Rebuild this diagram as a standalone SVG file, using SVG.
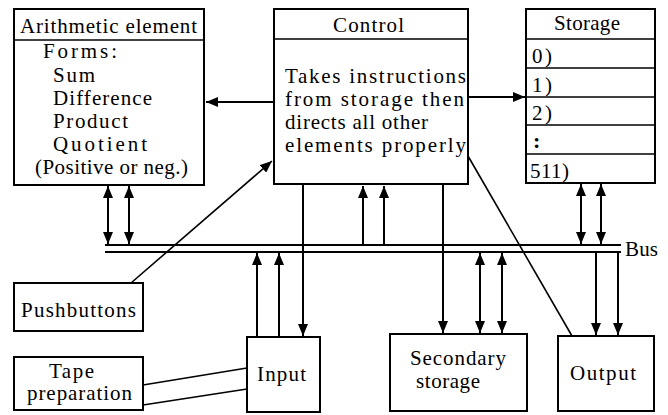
<svg xmlns="http://www.w3.org/2000/svg" width="668" height="415" viewBox="0 0 668 415">
<style>
.box{fill:#fff;stroke:#000;stroke-width:2}
.div{stroke:#000;stroke-width:1.6}
.lbl{font-family:'Liberation Serif','DejaVu Serif',serif;font-size:21px;fill:#000}
.c{stroke:#000;stroke-width:2;fill:none}
.t{stroke:#000;stroke-width:1.6;fill:none}
</style>
<defs>
<marker id="ah" markerUnits="userSpaceOnUse" markerWidth="12" markerHeight="10" refX="12" refY="5" orient="auto-start-reverse" viewBox="0 0 12 10">
<path d="M0,0 L12,5 L0,10 z" fill="#000"/>
</marker>
</defs>
<rect width="668" height="415" fill="#fff"/>

<g id="connectors">
<line class="c" x1="105" y1="245" x2="621" y2="245"/>
<line class="c" x1="105" y1="252" x2="621" y2="252"/>
<line class="c" x1="273" y1="102" x2="206" y2="102" marker-end="url(#ah)"/>
<line class="c" x1="468" y1="97" x2="525" y2="97" marker-end="url(#ah)"/>
<line class="c" x1="108" y1="186" x2="108" y2="244" marker-start="url(#ah)" marker-end="url(#ah)"/>
<line class="c" x1="129" y1="186" x2="129" y2="244" marker-start="url(#ah)" marker-end="url(#ah)"/>
<line class="c" x1="363" y1="245" x2="363" y2="186" marker-end="url(#ah)"/>
<line class="c" x1="384" y1="245" x2="384" y2="186" marker-end="url(#ah)"/>
<line class="c" x1="581" y1="184" x2="581" y2="244" marker-start="url(#ah)" marker-end="url(#ah)"/>
<line class="c" x1="601" y1="184" x2="601" y2="244" marker-start="url(#ah)" marker-end="url(#ah)"/>
<line class="c" x1="257" y1="337" x2="257" y2="253" marker-end="url(#ah)"/>
<line class="c" x1="279" y1="337" x2="279" y2="253" marker-end="url(#ah)"/>
<line class="c" x1="303" y1="185" x2="303" y2="336" marker-end="url(#ah)"/>
<line class="c" x1="443" y1="184" x2="443" y2="333" marker-end="url(#ah)"/>
<line class="c" x1="480" y1="253" x2="480" y2="333" marker-start="url(#ah)" marker-end="url(#ah)"/>
<line class="c" x1="502" y1="253" x2="502" y2="333" marker-start="url(#ah)" marker-end="url(#ah)"/>
<line class="c" x1="596" y1="252" x2="596" y2="335" marker-end="url(#ah)"/>
<line class="c" x1="618" y1="252" x2="618" y2="335" marker-end="url(#ah)"/>
<line class="t" x1="468" y1="156" x2="572" y2="336"/>
<line class="t" x1="131" y1="283" x2="272" y2="161" marker-end="url(#ah)"/>
<line class="t" x1="143" y1="385" x2="247" y2="368"/>
<line class="t" x1="143" y1="405" x2="247" y2="389"/>
<text class="lbl" x="625" y="256" textLength="33">Bus</text>
</g>

<g id="arithmetic">
<rect class="box" x="14" y="9" width="190" height="176"/>
<line class="div" x1="14" y1="40" x2="204" y2="40"/>
<text class="lbl" x="20" y="33" textLength="177">Arithmetic element</text>
<text class="lbl" x="43" y="58" textLength="74">Forms:</text>
<text class="lbl" x="53" y="82" textLength="42">Sum</text>
<text class="lbl" x="53" y="105" textLength="99">Difference</text>
<text class="lbl" x="53" y="128" textLength="75">Product</text>
<text class="lbl" x="53" y="151" textLength="94">Quotient</text>
<text class="lbl" x="35" y="174" textLength="153">(Positive or neg.)</text>
</g>

<g id="control">
<rect class="box" x="274" y="9" width="194" height="175"/>
<line class="div" x1="274" y1="39" x2="468" y2="39"/>
<text class="lbl" x="333" y="32" textLength="71">Control</text>
<text class="lbl" x="285" y="83" textLength="181">Takes instructions</text>
<text class="lbl" x="285" y="106" textLength="179">from storage then</text>
<text class="lbl" x="285" y="129" textLength="143">directs all other</text>
<text class="lbl" x="285" y="152" textLength="181">elements properly</text>
</g>

<g id="storage">
<rect class="box" x="526" y="9" width="129" height="174"/>
<line class="div" x1="526" y1="39" x2="655" y2="39"/>
<line class="div" x1="526" y1="68" x2="655" y2="68"/>
<line class="div" x1="526" y1="97" x2="655" y2="97"/>
<line class="div" x1="526" y1="125" x2="655" y2="125"/>
<line class="div" x1="526" y1="154" x2="655" y2="154"/>
<text class="lbl" x="554" y="30" textLength="66">Storage</text>
<text class="lbl" x="532" y="63" textLength="20">0)</text>
<text class="lbl" x="532" y="92" textLength="20">1)</text>
<text class="lbl" x="532" y="120" textLength="20">2)</text>
<text class="lbl" x="533" y="148" style="font-size:22px;font-weight:bold">:</text>
<text class="lbl" x="530" y="178" textLength="39">511)</text>
</g>

<g id="pushbuttons">
<rect class="box" x="14" y="283" width="129" height="48"/>
<text class="lbl" x="21" y="317" textLength="115">Pushbuttons</text>
</g>

<g id="tape">
<rect class="box" x="14" y="357" width="129" height="53"/>
<text class="lbl" x="49" y="378" textLength="45">Tape</text>
<text class="lbl" x="27" y="400" textLength="105">preparation</text>
</g>

<g id="input">
<rect class="box" x="247" y="337" width="73" height="75"/>
<text class="lbl" x="257" y="381" textLength="49">Input</text>
</g>

<g id="secondary">
<rect class="box" x="390" y="334" width="137" height="77"/>
<text class="lbl" x="410" y="365" textLength="96">Secondary</text>
<text class="lbl" x="416" y="388" textLength="64">storage</text>
</g>

<g id="output">
<rect class="box" x="558" y="336" width="96" height="75"/>
<text class="lbl" x="570" y="380" textLength="66">Output</text>
</g>
</svg>
